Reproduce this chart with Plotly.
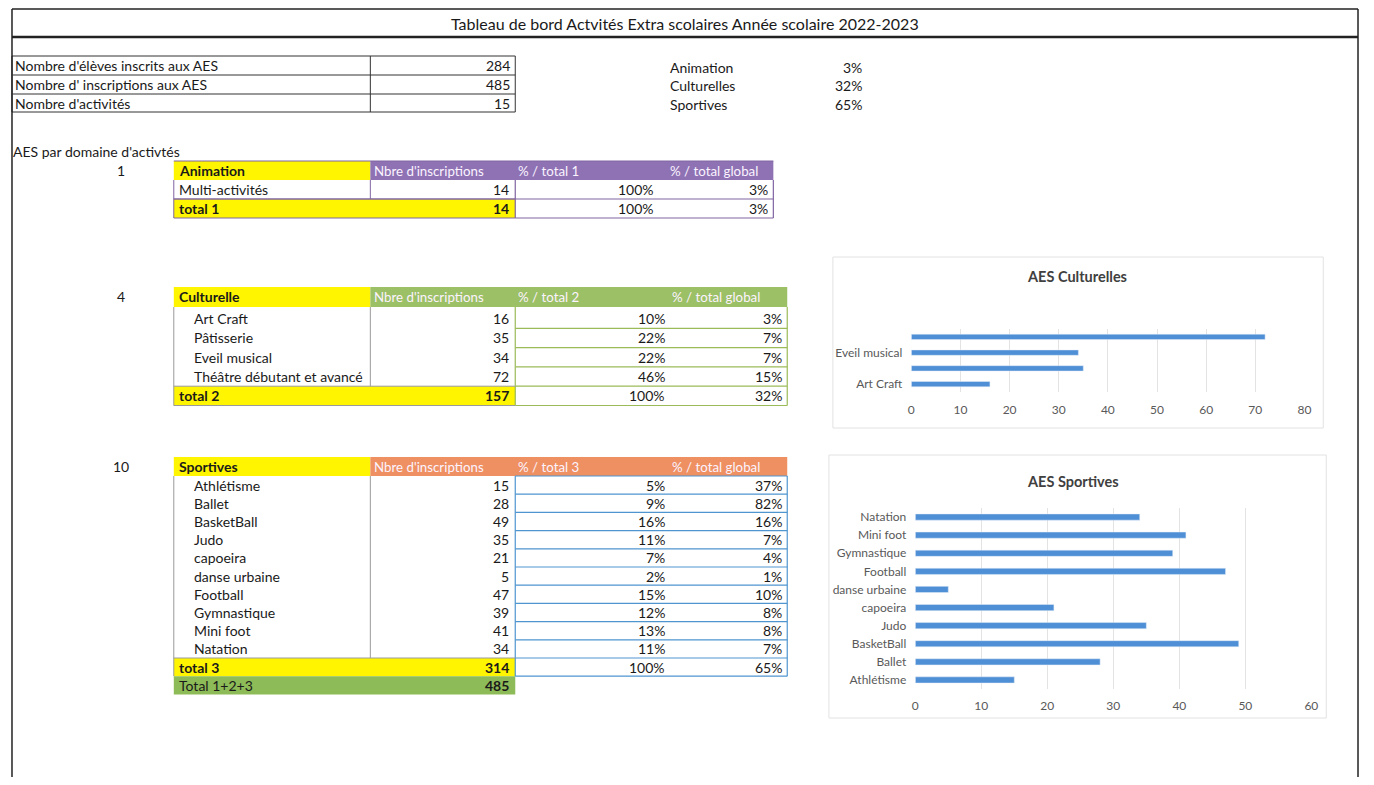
import plotly.graph_objects as go

# ---------------- DATA ----------------
page_title = "Tableau de bord Actvités Extra scolaires Année scolaire 2022-2023"

summary_labels = ["Nombre d'élèves inscrits aux AES", "Nombre d' inscriptions aux AES", "Nombre d'activités"]
summary_values = [284, 485, 15]

domain_names = ["Animation", "Culturelles", "Sportives"]
domain_pcts = ["3%", "32%", "65%"]

section_label = "AES par domaine d'activtés"
header_cols = ["Nbre d'inscriptions", "% / total global"]

anim_title = "Animation"
anim_num = "1"
anim_activities = ["Multi-activités"]
anim_counts = [14]
anim_pct_total = ["100%"]
anim_pct_global = ["3%"]
anim_total = ["total 1", 14, "100%", "3%"]

cult_title = "Culturelle"
cult_num = "4"
cult_activities = ["Art Craft", "Pâtisserie", "Eveil musical", "Théâtre débutant et avancé"]
cult_counts = [16, 35, 34, 72]
cult_pct_total = ["10%", "22%", "22%", "46%"]
cult_pct_global = ["3%", "7%", "7%", "15%"]
cult_total = ["total 2", 157, "100%", "32%"]

sport_title = "Sportives"
sport_num = "10"
sport_activities = ["Athlétisme", "Ballet", "BasketBall", "Judo", "capoeira", "danse urbaine",
                    "Football", "Gymnastique", "Mini foot", "Natation"]
sport_counts = [15, 28, 49, 35, 21, 5, 47, 39, 41, 34]
sport_pct_total = ["5%", "9%", "16%", "11%", "7%", "2%", "15%", "12%", "13%", "11%"]
sport_pct_global = ["37%", "82%", "16%", "7%", "4%", "1%", "10%", "8%", "8%", "7%"]
sport_total = ["total 3", 314, "100%", "65%"]
grand_total = ["Total 1+2+3", 485]

chart1_title = "AES Culturelles"
chart2_title = "AES Sportives"

# ---------------- HELPERS ----------------
OFF = 8  # default body margin of the html page
W, H = 1374 - 2 * OFF, 785 - 2 * OFF
FONT = "Lato, Carlito, Calibri, sans-serif"
FS = 14
shapes = []
annots = []


def X(px):
    return (px - OFF) / W


def Y(py):
    return 1 - (py - OFF) / H


def rect(x0, y0, x1, y1, fill=None, line=None, width=1):
    shapes.append(dict(type="rect", xref="paper", yref="paper", layer="below",
                       x0=X(x0), x1=X(x1), y0=Y(y1), y1=Y(y0),
                       fillcolor=fill if fill else "rgba(0,0,0,0)",
                       line=dict(color=line if line else "rgba(0,0,0,0)", width=width if line else 0)))


def seg(x0, y0, x1, y1, color, width=1):
    shapes.append(dict(type="line", xref="paper", yref="paper",
                       x0=X(x0), x1=X(x1), y0=Y(y0), y1=Y(y1),
                       line=dict(color=color, width=width)))


def txt(x, y, s, anchor="left", size=FS, color="#1a1a1a", bold=False):
    s = str(s)
    if bold:
        s = "<b>" + s + "</b>"
    annots.append(dict(x=X(x), y=Y(y), xref="paper", yref="paper", text=s, showarrow=False,
                       xanchor=anchor, yanchor="middle", font=dict(family=FONT, size=size, color=color)))


# ---------------- FRAME & TITLE ----------------
seg(9, 9, 1365, 9, "#222", 1.5)
seg(9, 37, 1365, 37, "#222", 2.5)
seg(9, 9, 9, 785, "#222", 1.5)
seg(1365, 9, 1365, 785, "#222", 1.5)
txt(687, 23, page_title, "center", 16)

# ---------------- SUMMARY ----------------
sum_rows = [56, 75, 94, 112]
rect(9, 56, 516, 112, line="#333", width=1)
seg(370, 56, 370, 112, "#333", 1)
for i, (lab, val) in enumerate(zip(summary_labels, summary_values)):
    if i > 0:
        seg(9, sum_rows[i], 516, sum_rows[i], "#333", 1)
    yc = (sum_rows[i] + sum_rows[i + 1]) / 2
    txt(10, yc, lab)
    txt(513, yc, val, "right")

for i, (n, p) in enumerate(zip(domain_names, domain_pcts)):
    yc = 67 + i * 18.7
    txt(670, yc, n)
    txt(867, yc, p, "right")

txt(8, 151, section_label)

YELLOW = "#FFF500"
HEAD_TXT = "#fbf3ff"


# ---------------- TABLE BUILDER ----------------
def draw_table(num, title, acts, counts, ptot, pglob, total, head_color, line_color,
               y_head, head_h, y_rows, row_h, right, c3, p_right, g_right, tot_n, indent,
               left_line="#9a9a9a", grand=None):
    rect(172, y_head, 370, y_head + head_h, fill=YELLOW)
    rect(370, y_head, right, y_head + head_h, fill=head_color)
    yc = y_head + head_h / 2
    txt(119, yc, num, "center")
    txt(175, yc, title, bold=True)
    txt(372, yc, header_cols[0], color=HEAD_TXT, size=13.3)
    txt(517, yc, "% / total " + str(tot_n), color=HEAD_TXT, size=13.3)
    txt(c3 + 8, yc, header_cols[1], color=HEAD_TXT, size=13.3)
    n = len(acts)
    y_end = y_rows + n * row_h
    seg(172, y_head + head_h, 172, y_end + row_h, left_line, 1)
    seg(370, y_head + head_h, 370, y_end, left_line, 1)
    seg(516, y_head + head_h, 516, y_end + row_h, line_color, 1.2)
    seg(right, y_head + head_h, right, y_end + row_h, line_color, 1.2)
    for i in range(n):
        y0 = y_rows + i * row_h
        ycc = y0 + row_h / 2
        txt(172 + indent, ycc, acts[i])
        txt(512, ycc, counts[i], "right")
        txt(p_right, ycc, ptot[i], "right")
        txt(g_right, ycc, pglob[i], "right")
        seg(516, y0 + row_h, right, y0 + row_h, line_color, 1.2)
    rect(172, y_end, 516, y_end + row_h, fill=YELLOW)
    seg(172, y_end, 516, y_end, left_line, 1)
    seg(516, y_end + row_h, right, y_end + row_h, line_color, 1.2)
    ycc = y_end + row_h / 2
    txt(175, ycc, total[0], bold=True)
    txt(512, ycc, total[1], "right", bold=True)
    txt(p_right, ycc, total[2], "right")
    txt(g_right, ycc, total[3], "right")
    if grand is not None:
        rect(172, y_end + row_h, 516, y_end + 2 * row_h, fill="#8DBB57")
        ycg = y_end + 1.5 * row_h
        txt(175, ycg, grand[0])
        txt(512, ycg, grand[1], "right", bold=True)
    else:
        seg(172, y_end + row_h, 516, y_end + row_h, left_line, 1)


draw_table(anim_num, anim_title, anim_activities, anim_counts, anim_pct_total, anim_pct_global, anim_total,
           "#8E72B4", "#8064A2", 161, 19, 180, 19, 776, 662, 658, 773, 1, 3, left_line="#8064A2")
seg(172, 161, 776, 161, "#8064A2", 1)
seg(172, 199, 516, 199, "#8064A2", 1.2)

draw_table(cult_num, cult_title, cult_activities, cult_counts, cult_pct_total, cult_pct_global, cult_total,
           "#9CC066", "#9BBB59", 287, 20, 309, 19.3, 790, 664, 669, 787, 2, 18)

draw_table(sport_num, sport_title, sport_activities, sport_counts, sport_pct_total, sport_pct_global, sport_total,
           "#EF9062", "#4F95CF", 457, 19, 476, 18.2, 790, 664, 669, 787, 3, 18, grand=grand_total)
seg(516, 476, 790, 476, "#4F95CF", 1.2)

# ---------------- CHART BOXES ----------------
rect(836, 257, 1330, 428, line="#e2e2e2", width=1)
rect(832, 455, 1333, 718, line="#e2e2e2", width=1)
txt(1082, 277, chart1_title, "center", 14.5, "#404040", bold=True)
txt(1078, 481, chart2_title, "center", 14.5, "#404040", bold=True)

BAR = "#4E8FD6"
fig = go.Figure()
fig.add_trace(go.Bar(x=cult_counts, y=cult_activities, orientation="h", marker=dict(color=BAR),
                     xaxis="x", yaxis="y", showlegend=False))
fig.add_trace(go.Bar(x=sport_counts, y=sport_activities, orientation="h", marker=dict(color=BAR),
                     xaxis="x2", yaxis="y2", showlegend=False))

tickfont = dict(family=FONT, size=12, color="#595959")
fig.update_layout(
    width=W, height=H, margin=dict(l=0, r=0, t=0, b=0),
    paper_bgcolor="white", plot_bgcolor="white",
    shapes=shapes, annotations=annots, bargap=0.66,
    xaxis=dict(domain=[X(915), X(1311)], anchor="y", range=[0, 80], dtick=10, showgrid=True,
               gridcolor="#e3e3e3", zeroline=False, showline=False, tickfont=tickfont, ticks="",
               ticklabelstandoff=9),
    yaxis=dict(domain=[Y(392), Y(329)], anchor="x", type="category",
               categoryorder="array", categoryarray=cult_activities,
               tickvals=cult_activities[::2], showgrid=False, showline=False, tickfont=tickfont,
               ticks="", ticklabelstandoff=8),
    xaxis2=dict(domain=[X(919), X(1318)], anchor="y2", range=[0, 60], dtick=10, showgrid=True,
                gridcolor="#e3e3e3", zeroline=False, showline=False, tickfont=tickfont, ticks="",
                ticklabelstandoff=8),
    yaxis2=dict(domain=[Y(689), Y(508)], anchor="x2", type="category",
                categoryorder="array", categoryarray=sport_activities,
                showgrid=False, showline=False, tickfont=tickfont, ticks="", ticklabelstandoff=8),
)

fig.write_html("out.html")
